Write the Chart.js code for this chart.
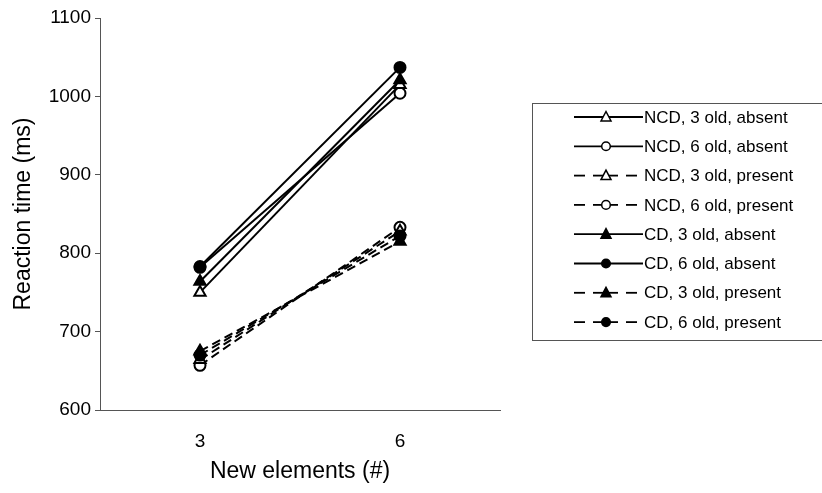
<!DOCTYPE html>
<html>
<head>
<meta charset="utf-8">
<script src="https://cdn.jsdelivr.net/npm/chart.js@4"></script>
<style>
  html, body { margin: 0; padding: 0; background: #fff; }
  #wrap { width: 822px; height: 493px; position: relative; }
</style>
</head>
<body>
<div id="wrap"><canvas id="rtChart"></canvas></div>
<script>
// categorias del eje x (nuevos elementos)
const categorias = ['3', '6'];
const nombres = [
  'NCD, 3 old, absent',
  'NCD, 6 old, absent',
  'NCD, 3 old, present',
  'NCD, 6 old, present',
  'CD, 3 old, absent',
  'CD, 6 old, absent',
  'CD, 3 old, present',
  'CD, 6 old, present'
];
// tiempos de reaccion (ms)
const ncd3Absent = [750, 1015];
const ncd6Absent = [782, 1004];
const ncd3Present = [664, 828];
const ncd6Present = [657, 833];
const cd3Absent = [764, 1021];
const cd6Absent = [783, 1037];
const cd3Present = [675, 815];
const cd6Present = [670, 822];
const valores = [ncd3Absent, ncd6Absent, ncd3Present, ncd6Present, cd3Absent, cd6Absent, cd3Present, cd6Present];
const yTicks = [600, 700, 800, 900, 1000, 1100];

const fuente = "'Liberation Sans', Arial, sans-serif";

function serie(i) {
  const triangulo = nombres[i].includes('3 old');
  const lleno = nombres[i].startsWith('CD');
  const dashed = nombres[i].includes('present');
  return {
    label: nombres[i],
    data: valores[i],
    order: lleno ? 0 : 1,
    borderColor: '#000',
    borderWidth: 2,
    borderDash: dashed ? [9, 5] : [],
    pointStyle: triangulo ? 'triangle' : 'circle',
    pointRadius: triangulo ? 6.5 : 5.5,
    pointBorderWidth: 2,
    pointBorderColor: '#000',
    pointBackgroundColor: lleno ? '#000' : '#fff',
    fill: false,
    tension: 0
  };
}

// leyenda dibujada a mano en el canvas
const leyenda = {
  id: 'leyenda',
  afterDraw(chart) {
    const ctx = chart.ctx;
    ctx.save();
    ctx.strokeStyle = '#555';
    ctx.lineWidth = 1;
    ctx.strokeRect(532.5, 103.5, 300, 237);
    chart.data.datasets.forEach((ds, i) => {
      const y = 117 + i * 29.3;
      ctx.strokeStyle = '#000';
      ctx.lineWidth = 1.8;
      if (ds.borderDash.length) {
        [[574, 585], [593, 618], [626, 637]].forEach(s => {
          ctx.beginPath(); ctx.moveTo(s[0], y); ctx.lineTo(s[1], y); ctx.stroke();
        });
      } else {
        ctx.beginPath(); ctx.moveTo(574, y); ctx.lineTo(643, y); ctx.stroke();
      }
      ctx.fillStyle = ds.pointBackgroundColor;
      ctx.lineWidth = 1.5;
      ctx.beginPath();
      if (ds.pointStyle === 'triangle') {
        ctx.moveTo(606, y - 5.5); ctx.lineTo(611, y + 4); ctx.lineTo(601, y + 4); ctx.closePath();
      } else {
        ctx.arc(606, y, 4.3, 0, Math.PI * 2);
      }
      ctx.fill(); ctx.stroke();
      ctx.fillStyle = '#000';
      ctx.font = '17px ' + fuente;
      ctx.textBaseline = 'middle';
      ctx.textAlign = 'left';
      ctx.fillText(ds.label, 644, y + 1);
    });
    ctx.restore();
  }
};

const ctx = document.getElementById('rtChart').getContext('2d');
const rtChart = new Chart(ctx, {
  type: 'line',
  data: {
    labels: categorias,
    datasets: nombres.map((n, i) => serie(i))
  },
  options: {
    responsive: true,
    maintainAspectRatio: false,
    animation: false,
    layout: { padding: { top: 18, right: 322, bottom: 0, left: 0 } },
    plugins: { legend: { display: false }, tooltip: { enabled: false } },
    scales: {
      x: {
        offset: true,
        afterFit: s => { s.height = 83; },
        grid: { display: false, drawTicks: false },
        border: { color: '#555', width: 1 },
        ticks: { color: '#000', font: { family: fuente, size: 19 }, padding: 20 },
        title: { display: true, text: 'New elements (#)', color: '#000', font: { family: fuente, size: 23 }, padding: { top: 0, bottom: 8 } }
      },
      y: {
        min: 600,
        max: 1100,
        afterFit: s => { s.width = 100; },
        afterBuildTicks: s => { s.ticks = yTicks.map(v => ({ value: v })); },
        grid: { drawOnChartArea: false, drawTicks: true, tickLength: 5, color: '#555' },
        border: { color: '#555', width: 1 },
        ticks: { color: '#000', font: { family: fuente, size: 19 }, padding: 4, callback: v => String(v) },
        title: { display: true, text: 'Reaction time (ms)', color: '#000', font: { family: fuente, size: 23 }, padding: { top: 10, bottom: 0 } }
      }
    }
  },
  plugins: [leyenda]
});
</script>
</body>
</html>
